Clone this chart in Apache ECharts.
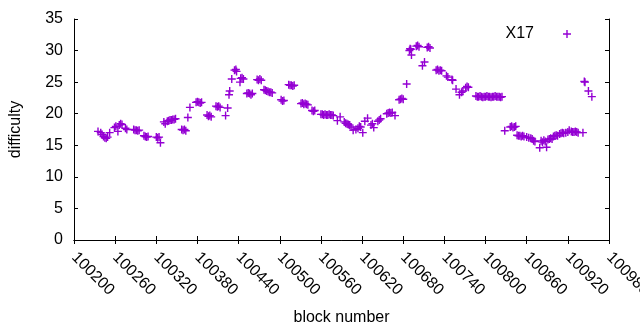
<!DOCTYPE html>
<html>
<head>
<meta charset="utf-8">
<script src="https://cdn.jsdelivr.net/npm/echarts@6/dist/echarts.min.js"></script>
<style>
html,body{margin:0;padding:0;background:#fff;}
#chart{width:640px;height:330px;}
</style>
</head>
<body>
<div id="chart"></div>
<script>
// Data
var seriesName = 'X17';
var blocks = [
  100235,100239,100241,100243,100245,100247,100249,100252,100259,100261,
  100264,100266,100268,100270,100275,100277,100287,100289,100291,100293,
  100295,100302,100304,100306,100308,100320,100322,100324,100326,100331,
  100333,100336,100338,100340,100342,100344,100346,100348,100357,100359,
  100361,100363,100366,100369,100378,100380,100382,100384,100386,100394,
  100396,100398,100400,100407,100409,100411,100413,100421,100424,100426,
  100427,100430,100434,100436,100437,100442,100443,100445,100447,100452,
  100454,100456,100458,100460,100467,100469,100471,100473,100477,100479,
  100481,100483,100485,100487,100489,100502,100504,100506,100513,100515,
  100517,100519,100521,100531,100533,100535,100537,100539,100541,100547,
  100549,100551,100560,100562,100564,100566,100568,100570,100572,100574,
  100576,100578,100584,100588,100594,100596,100598,100600,100602,100604,
  100607,100611,100614,100616,100618,100621,100624,100628,100633,100635,
  100637,100643,100645,100647,100656,100658,100660,100662,100664,100668,
  100674,100676,100678,100680,100685,100689,100690,100691,100692,100699,
  100701,100703,100708,100711,100715,100717,100719,100728,100730,100732,
  100734,100736,100743,100745,100751,100752,100757,100762,100765,100767,
  100771,100773,100775,100786,100788,100790,100792,100794,100796,100798,
  100800,100802,100804,100806,100808,100810,100812,100814,100816,100818,
  100820,100822,100824,100828,100836,100838,100840,100842,100844,100846,
  100848,100850,100852,100854,100856,100860,100863,100866,100868,100870,
  100872,100879,100881,100883,100885,100887,100889,100891,100893,100895,
  100897,100899,100901,100903,100905,100908,100910,100912,100914,100917,
  100920,100922,100925,100927,100929,100931,100933,100935,100942,100944,
  100945,100950,100955
];
var difficulty = [
  17.2,17.0,16.7,16.4,16.2,16.1,16.3,17.0,17.8,18.0,
  17.2,18.2,18.4,18.3,17.7,17.5,17.5,17.4,17.4,17.3,
  17.4,16.5,16.4,16.3,16.4,16.3,16.2,16.3,15.4,18.7,
  18.4,18.8,18.9,19.0,19.0,19.1,19.1,19.2,17.5,17.4,
  17.5,17.3,19.4,21.0,21.8,21.9,21.8,21.7,21.8,19.8,
  19.6,19.7,19.5,21.2,21.1,21.2,21.0,19.7,20.9,23.0,
  23.6,25.5,26.9,27.0,26.7,25.0,25.6,25.7,25.5,23.2,
  23.3,23.2,23.0,23.2,25.4,25.3,25.5,25.3,23.8,23.7,
  23.6,23.5,23.4,23.4,23.3,22.2,22.0,22.1,24.6,24.5,
  24.5,24.4,24.5,21.6,21.7,21.5,21.6,21.5,21.4,20.5,
  20.4,20.5,19.9,19.9,19.8,19.9,19.8,19.8,19.9,19.8,
  19.8,19.7,18.9,19.5,18.7,18.5,18.4,18.3,18.2,17.9,
  17.4,17.5,17.7,18.0,17.9,17.0,18.8,19.3,18.2,18.4,
  17.8,18.8,19.0,19.2,20.0,20.1,20.2,20.1,20.2,19.7,
  22.2,22.3,22.4,22.3,24.7,30.0,30.3,30.2,29.3,30.7,
  30.8,30.6,27.6,28.2,30.5,30.6,30.4,26.9,27.0,26.8,
  26.9,26.8,26.0,25.8,25.4,25.3,23.9,23.0,23.4,23.6,
  24.1,24.3,24.2,22.8,22.7,22.7,22.8,22.7,22.6,22.7,
  22.7,22.8,22.7,22.7,22.6,22.7,22.7,22.8,22.7,22.7,
  22.7,22.6,22.7,17.3,17.9,18.0,17.8,17.9,18.0,16.6,
  16.5,16.5,16.4,16.5,16.4,16.3,16.2,16.1,16.0,15.7,
  15.6,14.6,15.7,15.5,15.8,15.6,14.7,15.9,16.0,16.1,
  16.0,16.4,16.5,16.6,16.5,16.8,16.9,17.0,16.9,17.0,
  17.1,17.4,17.2,17.1,17.1,17.2,17.1,17.0,17.0,25.1,
  25.0,23.6,22.7
];
var xMin = 100200, xMax = 100980, xStep = 60;
var yMin = 0, yMax = 35, yStep = 5;

var plusPath = 'path://M3.3,0H4.7V8H3.3Z M0,3.3H8V4.7H0Z';
var color = '#9400d3';
var font = 'Liberation Sans, Arial, sans-serif';
var fs = 16;

var points = blocks.map(function (b, i) { return [b, difficulty[i]]; });

var chart = echarts.init(document.getElementById('chart'), null, {renderer: 'canvas'});
var axisLine = {show: true, lineStyle: {color: '#000', width: 1}};
var tick = {show: true, inside: true, length: 4, lineStyle: {color: '#000', width: 1}};
chart.setOption({
  animation: false,
  backgroundColor: '#fff',
  textStyle: {fontFamily: font},
  grid: {left: 74, right: 31, top: 19, bottom: 90, containLabel: false, outerBoundsMode: 'none'},
  legend: {
    data: [{name: seriesName, icon: plusPath}],
    right: 64, top: 21, align: 'right',
    itemWidth: 8, itemHeight: 8,
    textStyle: {color: '#000', fontSize: fs, fontFamily: font, padding: [0, 24, 0, 0]}
  },
  xAxis: [{
    type: 'value', min: xMin, max: xMax, interval: xStep,
    name: 'block number', nameLocation: 'middle', nameGap: 70,
    nameTextStyle: {color: '#000', fontSize: fs, fontFamily: font},
    axisLine: axisLine, axisTick: tick, splitLine: {show: false},
    axisLabel: {rotate: -45, margin: 15, color: '#000', fontSize: fs, fontFamily: font,
      formatter: function (v) { return String(v); }}
  }, {
    type: 'value', min: xMin, max: xMax, interval: xStep, position: 'top',
    axisLine: axisLine, axisTick: tick, splitLine: {show: false}, axisLabel: {show: false}
  }],
  yAxis: [{
    type: 'value', min: yMin, max: yMax, interval: yStep,
    name: 'difficulty', nameLocation: 'middle', nameGap: 50, nameRotate: 90,
    nameTextStyle: {color: '#000', fontSize: fs, fontFamily: font},
    axisLine: axisLine, axisTick: tick, splitLine: {show: false},
    axisLabel: {margin: 11, color: '#000', fontSize: fs, fontFamily: font}
  }, {
    type: 'value', min: yMin, max: yMax, interval: yStep, position: 'right',
    axisLine: axisLine, axisTick: tick, splitLine: {show: false}, axisLabel: {show: false}
  }],
  series: [{
    name: seriesName, type: 'scatter', data: points,
    symbol: plusPath, symbolSize: 8,
    itemStyle: {color: color, opacity: 1}
  }]
});
</script>
</body>
</html>
